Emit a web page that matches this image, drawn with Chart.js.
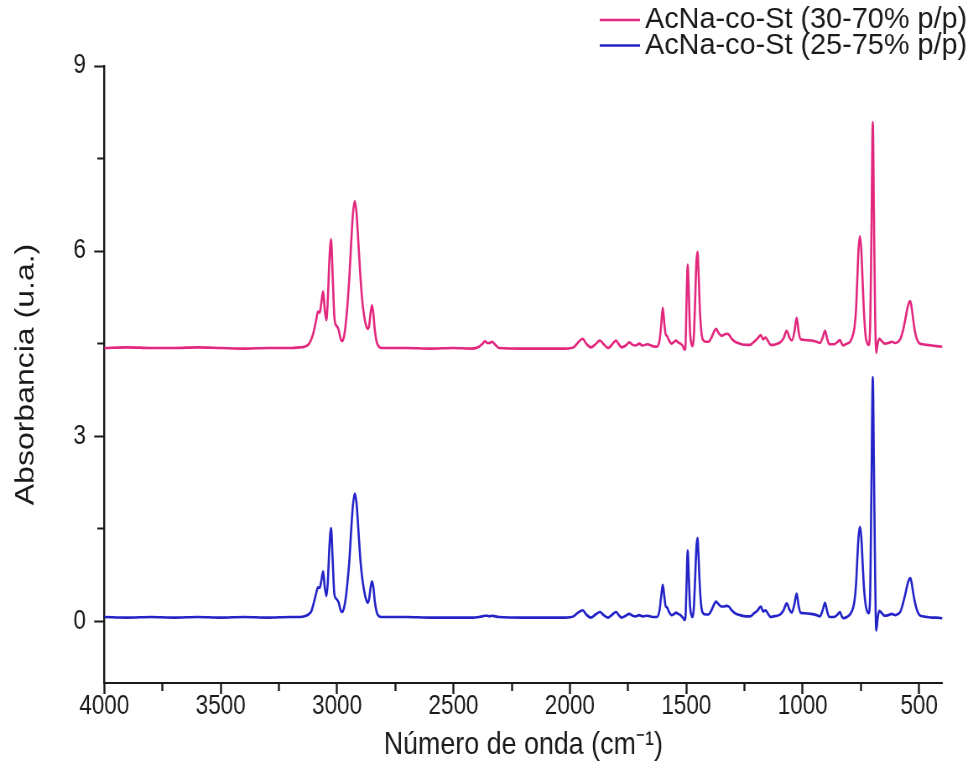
<!DOCTYPE html>
<html>
<head>
<meta charset="utf-8">
<script src="https://cdn.jsdelivr.net/npm/chart.js@4/dist/chart.umd.min.js"></script>
<style>
  html, body { margin: 0; padding: 0; background: #fff; overflow: hidden; }
  #spectrum { display: block; }
</style>
</head>
<body>
<canvas id="spectrum" width="1160" height="781" style="width:973px;height:781px"></canvas>
<script>
// FTIR spectra of the two copolymers (wavenumber in cm-1, absorbance in a.u.)
const wavenumbers = [
  4000, 3900, 3800, 3700, 3600, 3500, 3400, 3300, 3200, 3160, 3140, 3120, 3110, 3100, 3090, 3082, 3075, 3068, 3060, 3053,
  3046, 3040, 3033, 3026, 3019, 3012, 3005, 3000, 2993, 2985, 2978, 2970, 2962, 2955, 2947, 2940, 2932, 2924, 2916, 2908,
  2900, 2892, 2884, 2876, 2868, 2862, 2856, 2850, 2844, 2838, 2830, 2822, 2810, 2700, 2600, 2500, 2420, 2390, 2375, 2365,
  2355, 2345, 2335, 2320, 2305, 2200, 2100, 2020, 1985, 1965, 1945, 1930, 1910, 1890, 1871, 1855, 1835, 1818, 1802, 1790,
  1778, 1760, 1745, 1730, 1718, 1702, 1688, 1667, 1645, 1627, 1615, 1608, 1601, 1595, 1589, 1582, 1574, 1563, 1552, 1544,
  1535, 1525, 1515, 1508, 1504, 1499, 1494, 1489, 1484, 1478, 1473, 1468, 1462, 1457, 1452, 1447, 1441, 1435, 1428, 1415,
  1405, 1392, 1380, 1372, 1362, 1350, 1340, 1328, 1318, 1305, 1290, 1270, 1240, 1226, 1212, 1195, 1180, 1170, 1160, 1150,
  1138, 1125, 1110, 1097, 1082, 1069, 1057, 1047, 1036, 1026, 1017, 1009, 990, 965, 940, 926, 915, 904, 895, 886,
  865, 850, 840, 832, 826, 810, 795, 786, 778, 771, 765, 760, 754, 748, 742, 736, 729, 722, 717, 711,
  705, 699, 694, 689, 684, 678, 671, 660, 648, 632, 618, 602, 590, 580, 570, 560, 550, 543, 538, 532,
  525, 518, 510, 500, 485, 465, 445, 425, 400
];

// AcNa-co-St (30-70% p/p)
const absorbance3070 = [
  4.43, 4.44, 4.43, 4.43, 4.44, 4.43, 4.42, 4.43, 4.43, 4.44, 4.45, 4.50, 4.58, 4.70, 4.88, 5.02, 5.00, 5.15, 5.35, 5.05,
  4.88, 5.20, 5.85, 6.19, 5.60, 4.95, 4.80, 4.78, 4.72, 4.58, 4.54, 4.62, 4.85, 5.15, 5.60, 6.10, 6.60, 6.81, 6.60, 6.10,
  5.60, 5.20, 4.95, 4.80, 4.74, 4.80, 5.00, 5.12, 4.98, 4.72, 4.53, 4.46, 4.43, 4.43, 4.42, 4.43, 4.42, 4.45, 4.50, 4.54,
  4.51, 4.51, 4.53, 4.48, 4.43, 4.42, 4.42, 4.42, 4.44, 4.52, 4.58, 4.50, 4.44, 4.49, 4.55, 4.49, 4.43, 4.49, 4.55, 4.49,
  4.44, 4.47, 4.52, 4.48, 4.47, 4.50, 4.47, 4.49, 4.46, 4.45, 4.55, 4.80, 5.08, 4.85, 4.66, 4.62, 4.55, 4.50, 4.53, 4.55,
  4.52, 4.50, 4.46, 4.40, 4.42, 5.20, 5.78, 5.30, 4.70, 4.50, 4.46, 4.60, 5.20, 5.80, 5.99, 5.60, 5.00, 4.68, 4.56, 4.53,
  4.53, 4.60, 4.70, 4.74, 4.68, 4.63, 4.64, 4.66, 4.65, 4.58, 4.53, 4.50, 4.48, 4.48, 4.52, 4.58, 4.64, 4.57, 4.60, 4.55,
  4.48, 4.48, 4.50, 4.52, 4.59, 4.71, 4.60, 4.55, 4.68, 4.92, 4.68, 4.57, 4.56, 4.55, 4.53, 4.51, 4.59, 4.71, 4.58, 4.49,
  4.49, 4.53, 4.56, 4.50, 4.47, 4.50, 4.54, 4.62, 4.75, 5.05, 5.60, 6.05, 6.24, 6.00, 5.45, 4.95, 4.60, 4.50, 4.48, 4.70,
  6.20, 8.09, 6.60, 5.00, 4.35, 4.50, 4.58, 4.54, 4.50, 4.51, 4.53, 4.51, 4.53, 4.58, 4.70, 4.88, 5.08, 5.17, 5.19, 5.08,
  4.88, 4.70, 4.58, 4.51, 4.49, 4.48, 4.47, 4.46, 4.45
];

// AcNa-co-St (25-75% p/p)
const absorbance2575 = [
  0.07, 0.06, 0.07, 0.06, 0.07, 0.06, 0.07, 0.06, 0.07, 0.07, 0.08, 0.12, 0.17, 0.30, 0.45, 0.55, 0.54, 0.65, 0.81, 0.55,
  0.41, 0.62, 1.20, 1.51, 1.00, 0.45, 0.37, 0.35, 0.30, 0.18, 0.15, 0.22, 0.40, 0.65, 1.00, 1.45, 1.88, 2.07, 1.90, 1.45,
  1.00, 0.70, 0.50, 0.36, 0.30, 0.37, 0.55, 0.65, 0.55, 0.32, 0.15, 0.09, 0.07, 0.07, 0.06, 0.06, 0.06, 0.07, 0.08, 0.09,
  0.09, 0.08, 0.09, 0.08, 0.07, 0.06, 0.06, 0.06, 0.08, 0.14, 0.18, 0.11, 0.06, 0.11, 0.15, 0.10, 0.06, 0.11, 0.15, 0.10,
  0.06, 0.09, 0.12, 0.09, 0.08, 0.10, 0.08, 0.09, 0.07, 0.07, 0.18, 0.40, 0.59, 0.42, 0.25, 0.22, 0.15, 0.10, 0.12, 0.14,
  0.12, 0.10, 0.06, 0.02, 0.05, 0.60, 1.15, 0.70, 0.25, 0.10, 0.07, 0.20, 0.70, 1.18, 1.35, 1.00, 0.50, 0.22, 0.13, 0.11,
  0.11, 0.18, 0.28, 0.32, 0.28, 0.24, 0.24, 0.25, 0.24, 0.18, 0.13, 0.10, 0.08, 0.08, 0.12, 0.17, 0.24, 0.16, 0.18, 0.13,
  0.07, 0.08, 0.09, 0.11, 0.18, 0.29, 0.19, 0.14, 0.27, 0.45, 0.24, 0.14, 0.13, 0.12, 0.10, 0.08, 0.17, 0.30, 0.16, 0.07,
  0.07, 0.11, 0.15, 0.08, 0.05, 0.07, 0.12, 0.19, 0.32, 0.60, 1.05, 1.38, 1.53, 1.35, 0.90, 0.50, 0.25, 0.15, 0.13, 0.35,
  2.10, 3.96, 2.50, 0.80, -0.15, 0.05, 0.17, 0.13, 0.09, 0.10, 0.12, 0.10, 0.12, 0.16, 0.28, 0.43, 0.60, 0.68, 0.70, 0.62,
  0.45, 0.31, 0.19, 0.11, 0.08, 0.07, 0.06, 0.06, 0.05
];

const seriesLabels = ['AcNa-co-St (30-70% p/p)', 'AcNa-co-St (25-75% p/p)'];
const seriesColors = ['#e2287e', '#2323c8'];
const xLabelValues = [4000, 3500, 3000, 2500, 2000, 1500, 1000, 500];
const yLabelValues = [0, 3, 6, 9];

const FONT = '"Liberation Sans", Arial, Helvetica, sans-serif';
const INK = '#1a1a1a';

// Two-row key with a line sample for each series, placed above the plot;
// the label is stretched to span from textStart to textEnd.
const seriesKey = {
  id: 'seriesKey',
  afterDraw(chart, args, opts) {
    const ctx = chart.ctx;
    ctx.save();
    ctx.font = opts.size + 'px ' + FONT;
    ctx.textBaseline = 'middle';
    ctx.textAlign = 'left';
    chart.data.datasets.forEach((ds, i) => {
      const y = opts.top + i * opts.rowGap;
      ctx.strokeStyle = ds.borderColor;
      ctx.lineWidth = 2.6;
      ctx.beginPath();
      ctx.moveTo(opts.lineStart, y);
      ctx.lineTo(opts.lineEnd, y);
      ctx.stroke();
      const w = ctx.measureText(ds.label).width;
      const sx = (opts.textEnd - opts.textStart) / w;
      ctx.save();
      ctx.translate(opts.textStart, y);
      ctx.scale(sx, 1);
      ctx.fillStyle = INK;
      ctx.fillText(ds.label, 0, 0);
      ctx.restore();
    });
    ctx.restore();
  }
};

const toPoints = values => wavenumbers.map((w, i) => ({ x: w, y: values[i] }));

new Chart(document.getElementById('spectrum'), {
  type: 'line',
  data: {
    datasets: [
      { label: seriesLabels[0], data: toPoints(absorbance3070), borderColor: seriesColors[0] },
      { label: seriesLabels[1], data: toPoints(absorbance2575), borderColor: seriesColors[1] }
    ]
  },
  options: {
    responsive: false,
    animation: false,
    devicePixelRatio: 1,
    parsing: false,
    elements: {
      line: { borderWidth: 2.6, cubicInterpolationMode: 'monotone', fill: false },
      point: { radius: 0, hoverRadius: 0 }
    },
    layout: { padding: { left: 0, right: 36.5, top: 66, bottom: 0 } },
    plugins: {
      legend: { display: false },
      tooltip: { enabled: false },
      seriesKey: { top: 20, rowGap: 25.5, lineStart: 715, lineEnd: 763, textStart: 769, textEnd: 1153, size: 30 }
    },
    scales: {
      x: {
        type: 'linear',
        reverse: true,
        min: 400,
        max: 4000,
        afterFit: s => { s.height = 98; },
        ticks: {
          stepSize: 250,
          includeBounds: false,
          autoSkip: false,
          maxRotation: 0,
          padding: -3,
          color: INK,
          font: { family: FONT, size: 26.8 },
          callback: v => (xLabelValues.includes(v) ? String(v) : '')
        },
        grid: {
          drawOnChartArea: false,
          drawTicks: true,
          tickLength: 11,
          tickWidth: 2.4,
          tickColor: INK,
          tickBorderDash: c => (c.tick && c.tick.value % 500 === 0 ? [] : [7, 30])
        },
        border: { display: true, color: INK, width: 2 },
        title: {
          display: true,
          text: 'Número de onda (cm⁻¹)',
          color: INK,
          font: { family: FONT, size: 32 },
          padding: { top: 0, bottom: 17 }
        }
      },
      y: {
        min: -1,
        max: 9,
        afterFit: s => { s.width = 124.3; },
        ticks: {
          stepSize: 1.5,
          includeBounds: false,
          autoSkip: false,
          padding: 10,
          color: INK,
          font: { family: FONT, size: 26.8 },
          callback: v => (yLabelValues.includes(v) ? String(v) : '')
        },
        grid: {
          drawOnChartArea: false,
          drawTicks: true,
          tickLength: 12,
          tickWidth: 2,
          tickColor: INK,
          tickBorderDash: c => (c.tick && c.tick.value % 3 === 0 ? [] : [8.3, 3.7]),
          tickBorderDashOffset: c => (c.tick && c.tick.value % 3 === 0 ? 0 : 8.3)
        },
        border: { display: true, color: INK, width: 2.4 },
        title: {
          display: true,
          text: 'Absorbancia (u.a.)',
          color: INK,
          font: { family: FONT, size: 32 },
          padding: { top: 12, bottom: 0 }
        }
      }
    }
  },
  plugins: [seriesKey]
});
</script>
</body>
</html>
